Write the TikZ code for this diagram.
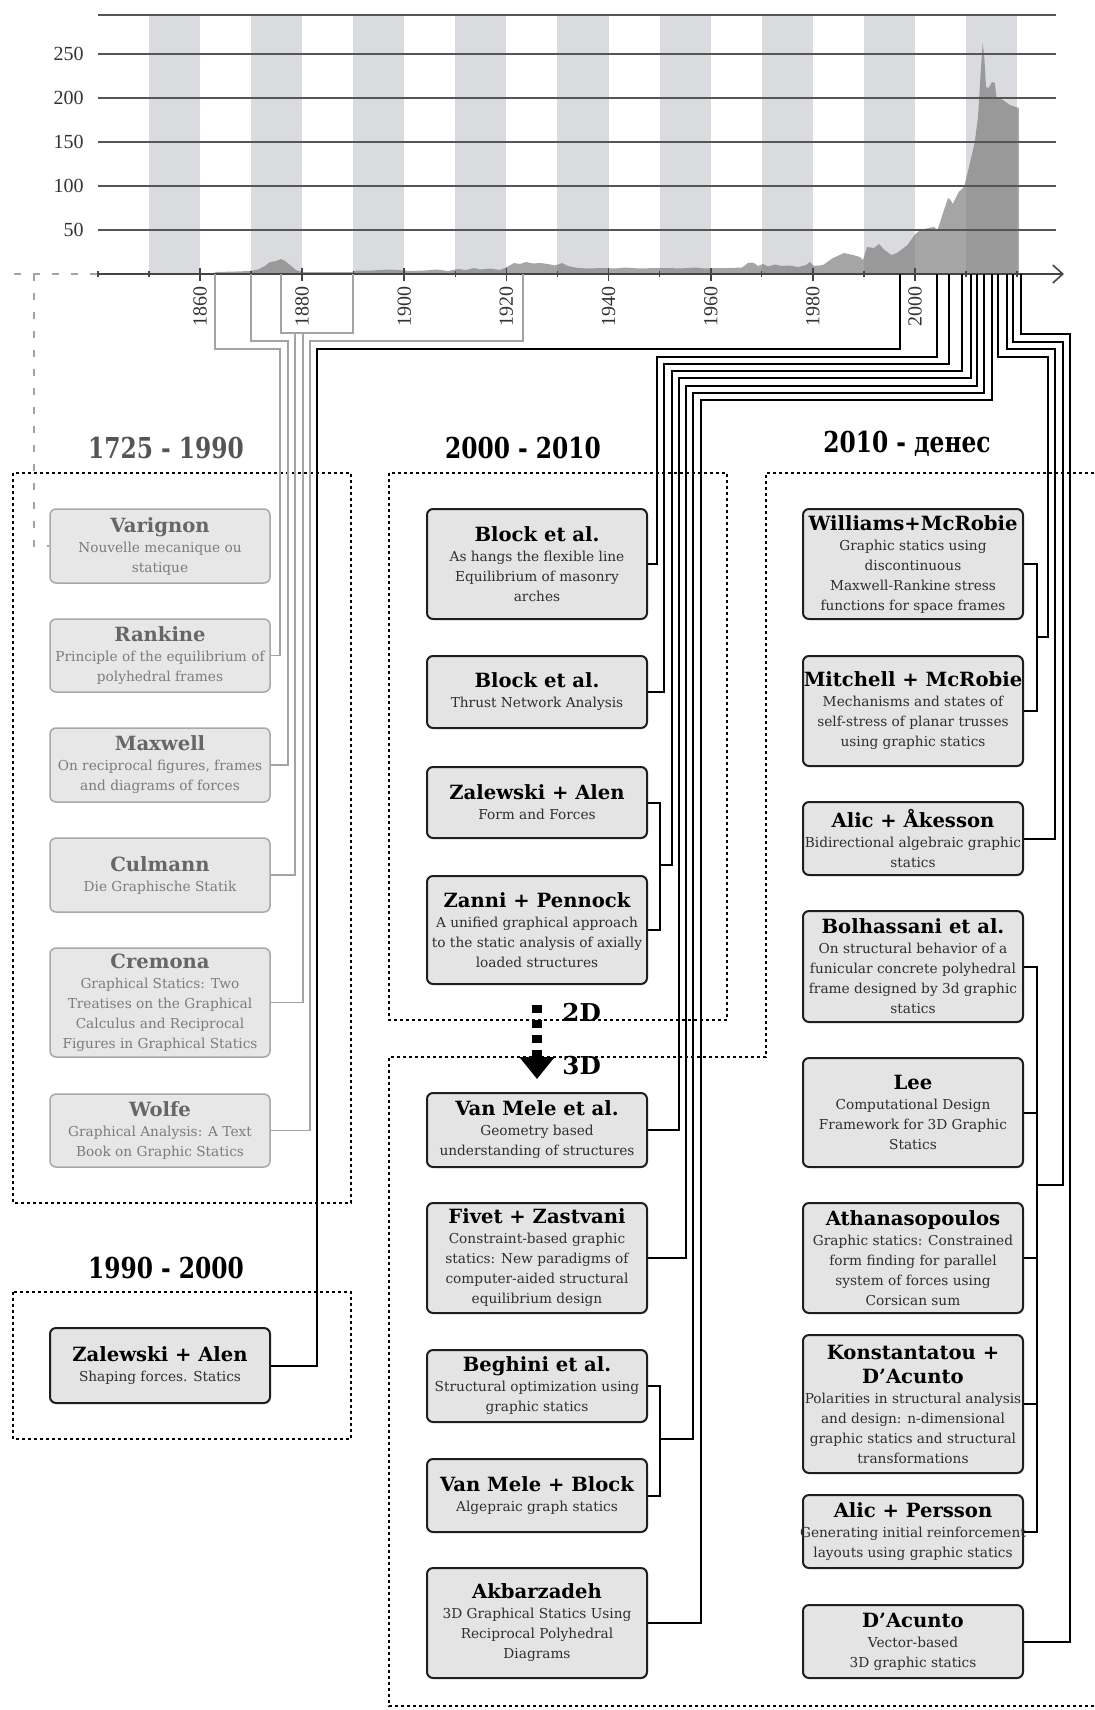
\documentclass[tikz,border=0pt]{standalone}
\usepackage{fontspec}
\setmainfont{DejaVu Serif}
\newfontfamily\axisfont{Liberation Serif}
\newfontfamily\headfont[FakeStretch=0.81]{DejaVu Serif}
\usetikzlibrary{arrows.meta,calc}

\definecolor{bandgray}{HTML}{D9DBDE}
\definecolor{areagray}{HTML}{7B7B7B}
\definecolor{gridgray}{HTML}{555555}
\definecolor{axisgray}{HTML}{444444}
\definecolor{oldfill}{HTML}{E7E7E7}
\definecolor{oldline}{HTML}{A8A8A8}
\definecolor{oldhead}{HTML}{666666}
\definecolor{oldbody}{HTML}{7C7C7C}
\definecolor{newfill}{HTML}{E4E4E4}
\definecolor{newline}{HTML}{1E1E1E}
\definecolor{newbody}{HTML}{2E2E2E}
\definecolor{linkgray}{HTML}{A3A3A3}
\definecolor{headgray}{HTML}{555555}
\colorlet{ttlcol}{black}

\newcommand{\ttl}[1]{{\color{ttlcol}\fontsize{9.8}{12}\selectfont\bfseries #1}}
\newcommand{\wide}[1]{\makebox[106pt]{#1}}

\begin{document}
\begin{tikzpicture}[x=0.5pt,y=-0.5pt,
  band/.style={fill=bandgray},
  gridline/.style={draw=gridgray,line width=1pt},
  axislab/.style={font=\axisfont\fontsize{10}{12}\selectfont,text=black!80,inner sep=0pt},
  box/.style={rectangle,rounded corners=3pt,minimum width=110pt,align=center,
    inner xsep=1pt,inner ysep=1pt,font={\fontsize{6.85}{10}\selectfont}},
  oldbox/.style={box,draw=oldline,line width=0.75pt,fill=oldfill,text=oldbody,
    minimum height=#1*0.5pt,execute at begin node=\colorlet{ttlcol}{oldhead}},
  newbox/.style={box,draw=newline,line width=1pt,fill=newfill,text=newbody,
    minimum height=#1*0.5pt,execute at begin node=\colorlet{ttlcol}{black}},
  headlab/.style={anchor=base,inner sep=0pt,font=\headfont\bfseries\fontsize{14.4}{16}\selectfont},
  dimlab/.style={anchor=base west,inner sep=0pt,font=\bfseries\fontsize{12.3}{14}\selectfont},
  oldlink/.style={draw=linkgray,line width=0.8pt},
  newlink/.style={draw=black,line width=1pt},
  farlink/.style={draw=linkgray,line width=0.8pt,dash pattern=on 3.5pt off 6pt},
  frame/.style={draw=black,line width=1.4pt,dash pattern=on 1.4pt off 1.6pt},
  dimarrow/.style={draw=black,line width=5pt,dash pattern=on 4pt off 3.5pt,
    -{Triangle[length=11pt,width=17pt]}}]
\useasboundingbox (0,0) rectangle (1094,1710);

% chart
\foreach \yr in {1860,1880,...,2020}
  \fill[band] ({200+(\yr-1870)*5.107},15) rectangle ({200+(\yr-1860)*5.107},274);
\fill[areagray,opacity=0.68] plot coordinates {(212,274) (216,272) (235,271.5) (250,271)
  (258,269.5) (265,266) (270,262) (276,261) (281,259) (285,261) (290,265) (296,270)
  (302,272) (330,272) (352,272) (356,270.5) (372,270.5) (388,269.5) (398,270) (410,271)
  (425,270.5) (437,269.5) (448,271) (458,269) (466,270) (474,268) (480,269.5) (490,268.5)
  (500,270) (508,266.5) (514,263) (520,264) (526,262) (533,263.5) (540,263) (548,264)
  (555,265.5) (562,263) (568,266) (578,268) (590,268.5) (602,268) (615,268.5) (625,267.5)
  (640,268.5) (655,268) (668,268) (680,268.5) (695,267.5) (705,268.5) (718,268) (730,268)
  (742,267.5) (748,263) (753,262.5) (758,266) (763,264) (768,266.5) (775,264.5) (782,266)
  (790,265.5) (798,267) (806,265) (810,262) (814,266) (823,265) (833,258) (844,253)
  (853,255) (860,257) (863,260) (867,247) (874,248) (879,244) (884.5,250) (891.5,255)
  (897,253) (907.5,245) (914.5,235) (920,230) (928.7,228) (934,227) (937.5,230) (943,213)
  (948,198) (950.6,200) (952.7,204) (958.7,192) (964,187) (969,167) (974.6,143) (978,117)
  (981,67) (982.7,43) (984.5,60) (986,87) (988.8,88) (992,82) (994.8,83) (996.5,97)
  (1003,100) (1010,105) (1018.8,108) (1018.8,274)} -- cycle;
\draw[gridline] (98,15) -- (1056,15);
\foreach \v/\yy in {50/230,100/186,150/142,200/98,250/54}{
  \draw[gridline] (98,\yy) -- (1056,\yy);
  \node[axislab,anchor=east] (v\v) at (84,\yy) {\v};
}
\coordinate (ax1725) at (14,274);
\coordinate (ax1840) at (98,274);
\coordinate (axend) at (1064,274);
\draw[axisgray,line width=0.7pt,-{Straight Barb[length=5pt,width=9pt,line width=0.8pt]}] (ax1840) -- (axend);
\foreach \yr in {1840,1850,...,2020}
  \draw[axisgray,line width=0.7pt] ({200+(\yr-1860)*5.107},271) -- ({200+(\yr-1860)*5.107},277);
\foreach \yr in {1860,1880,...,2000}{
  \draw[axisgray,line width=0.8pt] ({200+(\yr-1860)*5.107},268) -- ({200+(\yr-1860)*5.107},281);
  \node[axislab,rotate=90] (lab\yr) at ({200+(\yr-1860)*5.107},306) {\yr};
}

% frames
\draw[frame] (13,473) rectangle (351,1203);
\draw[frame] (13,1292) rectangle (351,1439);
\draw[frame] (389,473) rectangle (727,1020);
\draw[frame] (1094,473) -- (766,473) -- (766,1057) -- (389,1057) -- (389,1706) -- (1094,1706);

\node[headlab,text=headgray] (h1) at (166,458) {1725 - 1990};
\node[headlab] (h2) at (166,1278) {1990 - 2000};
\node[headlab] (h3) at (523,458) {2000 - 2010};
\node[headlab] (h4) at (907,452) {2010 - денес};

% boxes
\node[oldbox=74] (varignon) at (160,546) {\ttl{Varignon}\\Nouvelle mecanique ou\\statique};
\node[oldbox=73] (rankine) at (160,655.5) {\ttl{Rankine}\\Principle of the equilibrium of\\polyhedral frames};
\node[oldbox=74] (maxwell) at (160,765) {\ttl{Maxwell}\\On reciprocal figures, frames\\and diagrams of forces};
\node[oldbox=74] (culmann) at (160,875) {\ttl{Culmann}\\Die Graphische Statik};
\node[oldbox=109] (cremona) at (160,1002.5) {\ttl{Cremona}\\Graphical Statics: Two\\Treatises on the Graphical\\Calculus and Reciprocal\\Figures in Graphical Statics};
\node[oldbox=73] (wolfe) at (160,1130.5) {\ttl{Wolfe}\\Graphical Analysis: A Text\\Book on Graphic Statics};
\node[newbox=75] (zal90) at (160,1365.5) {\ttl{Zalewski + Alen}\\Shaping forces. Statics};

\node[newbox=110] (block1) at (537,564) {\ttl{Block et al.}\\As hangs the flexible line\\Equilibrium of masonry\\arches};
\node[newbox=72] (block2) at (537,692) {\ttl{Block et al.}\\Thrust Network Analysis};
\node[newbox=71] (zalewski) at (537,802.5) {\ttl{Zalewski + Alen}\\Form and Forces};
\node[newbox=108] (zanni) at (537,930) {\ttl{Zanni + Pennock}\\A unified graphical approach\\to the static analysis of axially\\loaded structures};
\node[newbox=74] (vanmele) at (537,1130) {\ttl{Van Mele et al.}\\Geometry based\\understanding of structures};
\node[newbox=110] (fivet) at (537,1258) {\ttl{Fivet + Zastvani}\\Constraint-based graphic\\statics: New paradigms of\\computer-aided structural\\equilibrium design};
\node[newbox=72] (beghini) at (537,1386) {\ttl{Beghini et al.}\\Structural optimization using\\graphic statics};
\node[newbox=73] (vmblock) at (537,1495.5) {\ttl{Van Mele + Block}\\Algepraic graph statics};
\node[newbox=110] (akbar) at (537,1623) {\ttl{Akbarzadeh}\\3D Graphical Statics Using\\Reciprocal Polyhedral\\Diagrams};

\node[newbox=110] (williams) at (913,564) {\ttl{Williams+McRobie}\\Graphic statics using\\discontinuous\\Maxwell-Rankine stress\\functions for space frames};
\node[newbox=110] (mitchell) at (913,711) {\ttl{\wide{Mitchell + McRobie}}\\Mechanisms and states of\\self-stress of planar trusses\\using graphic statics};
\node[newbox=73] (alic) at (913,838.5) {\ttl{Alic + Åkesson}\\\wide{Bidirectional algebraic graphic}\\statics};
\node[newbox=111] (bolhas) at (913,966.5) {\ttl{Bolhassani et al.}\\On structural behavior of a\\funicular concrete polyhedral\\frame designed by 3d graphic\\statics};
\node[newbox=109] (lee) at (913,1112.5) {\ttl{Lee}\\Computational Design\\Framework for 3D Graphic\\Statics};
\node[newbox=110] (athana) at (913,1258) {\ttl{Athanasopoulos}\\Graphic statics: Constrained\\form finding for parallel\\system of forces using\\Corsican sum};
\node[newbox=138] (konst) at (913,1404) {\ttl{Konstantatou +}\\[2pt]\ttl{D’Acunto}\\\wide{Polarities in structural analysis}\\and design: n-dimensional\\graphic statics and structural\\transformations};
\node[newbox=73] (alicp) at (913,1531.5) {\ttl{Alic + Persson}\\\wide{Generating initial reinforcement}\\layouts using graphic statics};
\node[newbox=73] (dacunto) at (913,1641.5) {\ttl{D’Acunto}\\Vector-based\\3D graphic statics};

% 2D -> 3D
\draw[dimarrow] ([yshift=-10pt]zanni.south) -- ([yshift=6.5pt]vanmele.north);
\node[dimlab] (lab2d) at (562,1021) {2D};
\node[dimlab] (lab3d) at (562,1074) {3D};

% links, old works
\draw[farlink] (ax1725) -- (ax1840);
\draw[farlink] (34,274) |- (varignon.west);
\coordinate (ax1863) at (215,274);
\coordinate (ax1870) at (251,274);
\coordinate (ax1876) at (281,274);
\coordinate (ax1890) at (353,274);
\coordinate (ax1923) at (523,274);
\draw[oldlink] (ax1863) |- (280,349) |- (rankine.east);
\draw[oldlink] (ax1870) |- (288,341) |- (maxwell.east);
\draw[oldlink] (ax1876) |- (ax1890 |- 0,333) -- (ax1890);
\draw[oldlink] (295,333) |- (culmann.east);
\draw[oldlink] (303,333) |- (cremona.east);
\draw[oldlink] (ax1923) |- (310,341) |- (wolfe.east);

% links, new works
\coordinate (ax1997) at (900,274);
\coordinate (ax2004) at (937,274);
\coordinate (ax2007) at (949,274);
\coordinate (ax2009) at (962,274);
\coordinate (ax2011) at (971,274);
\coordinate (ax2012) at (977,274);
\coordinate (ax2013) at (984,274);
\coordinate (ax2015) at (992,274);
\coordinate (ax2016) at (998,274);
\coordinate (ax2018) at (1007,274);
\coordinate (ax2019) at (1013,274);
\coordinate (ax2020) at (1021,274);
\coordinate (mjoin1) at (660,865);
\coordinate (mjoin2) at (660,1439);
\coordinate (rjoin1) at (1037,637);
\coordinate (rjoin2) at (1037,1185);
\draw[newlink] (ax1997) |- (317,349) |- (zal90.east);
\draw[newlink] (ax2004) |- (657,357) |- (block1.east);
\draw[newlink] (ax2007) |- (664,364) |- (block2.east);
\draw[newlink] (ax2009) |- (671.5,371) |- (mjoin1);
\draw[newlink] (zalewski.east) -| (mjoin1) |- (zanni.east);
\draw[newlink] (ax2011) |- (679,378) |- (vanmele.east);
\draw[newlink] (ax2012) |- (686,386) |- (fivet.east);
\draw[newlink] (ax2013) |- (693,393) |- (mjoin2);
\draw[newlink] (beghini.east) -| (mjoin2) |- (vmblock.east);
\draw[newlink] (ax2015) |- (700.5,400) |- (akbar.east);
\draw[newlink] (ax2016) |- (1047.5,357) |- (rjoin1);
\draw[newlink] (williams.east) -| (rjoin1) |- (mitchell.east);
\draw[newlink] (ax2018) |- (1055,349) |- (alic.east);
\draw[newlink] (ax2019) |- (1063,342) |- (rjoin2);
\draw[newlink] (bolhas.east) -| (rjoin2) |- (alicp.east);
\draw[newlink] (lee.east) -- (lee.east -| rjoin2);
\draw[newlink] (athana.east) -- (athana.east -| rjoin2);
\draw[newlink] (konst.east) -- (konst.east -| rjoin2);
\draw[newlink] (ax2020) |- (1070,334) |- (dacunto.east);
\end{tikzpicture}
\end{document}
